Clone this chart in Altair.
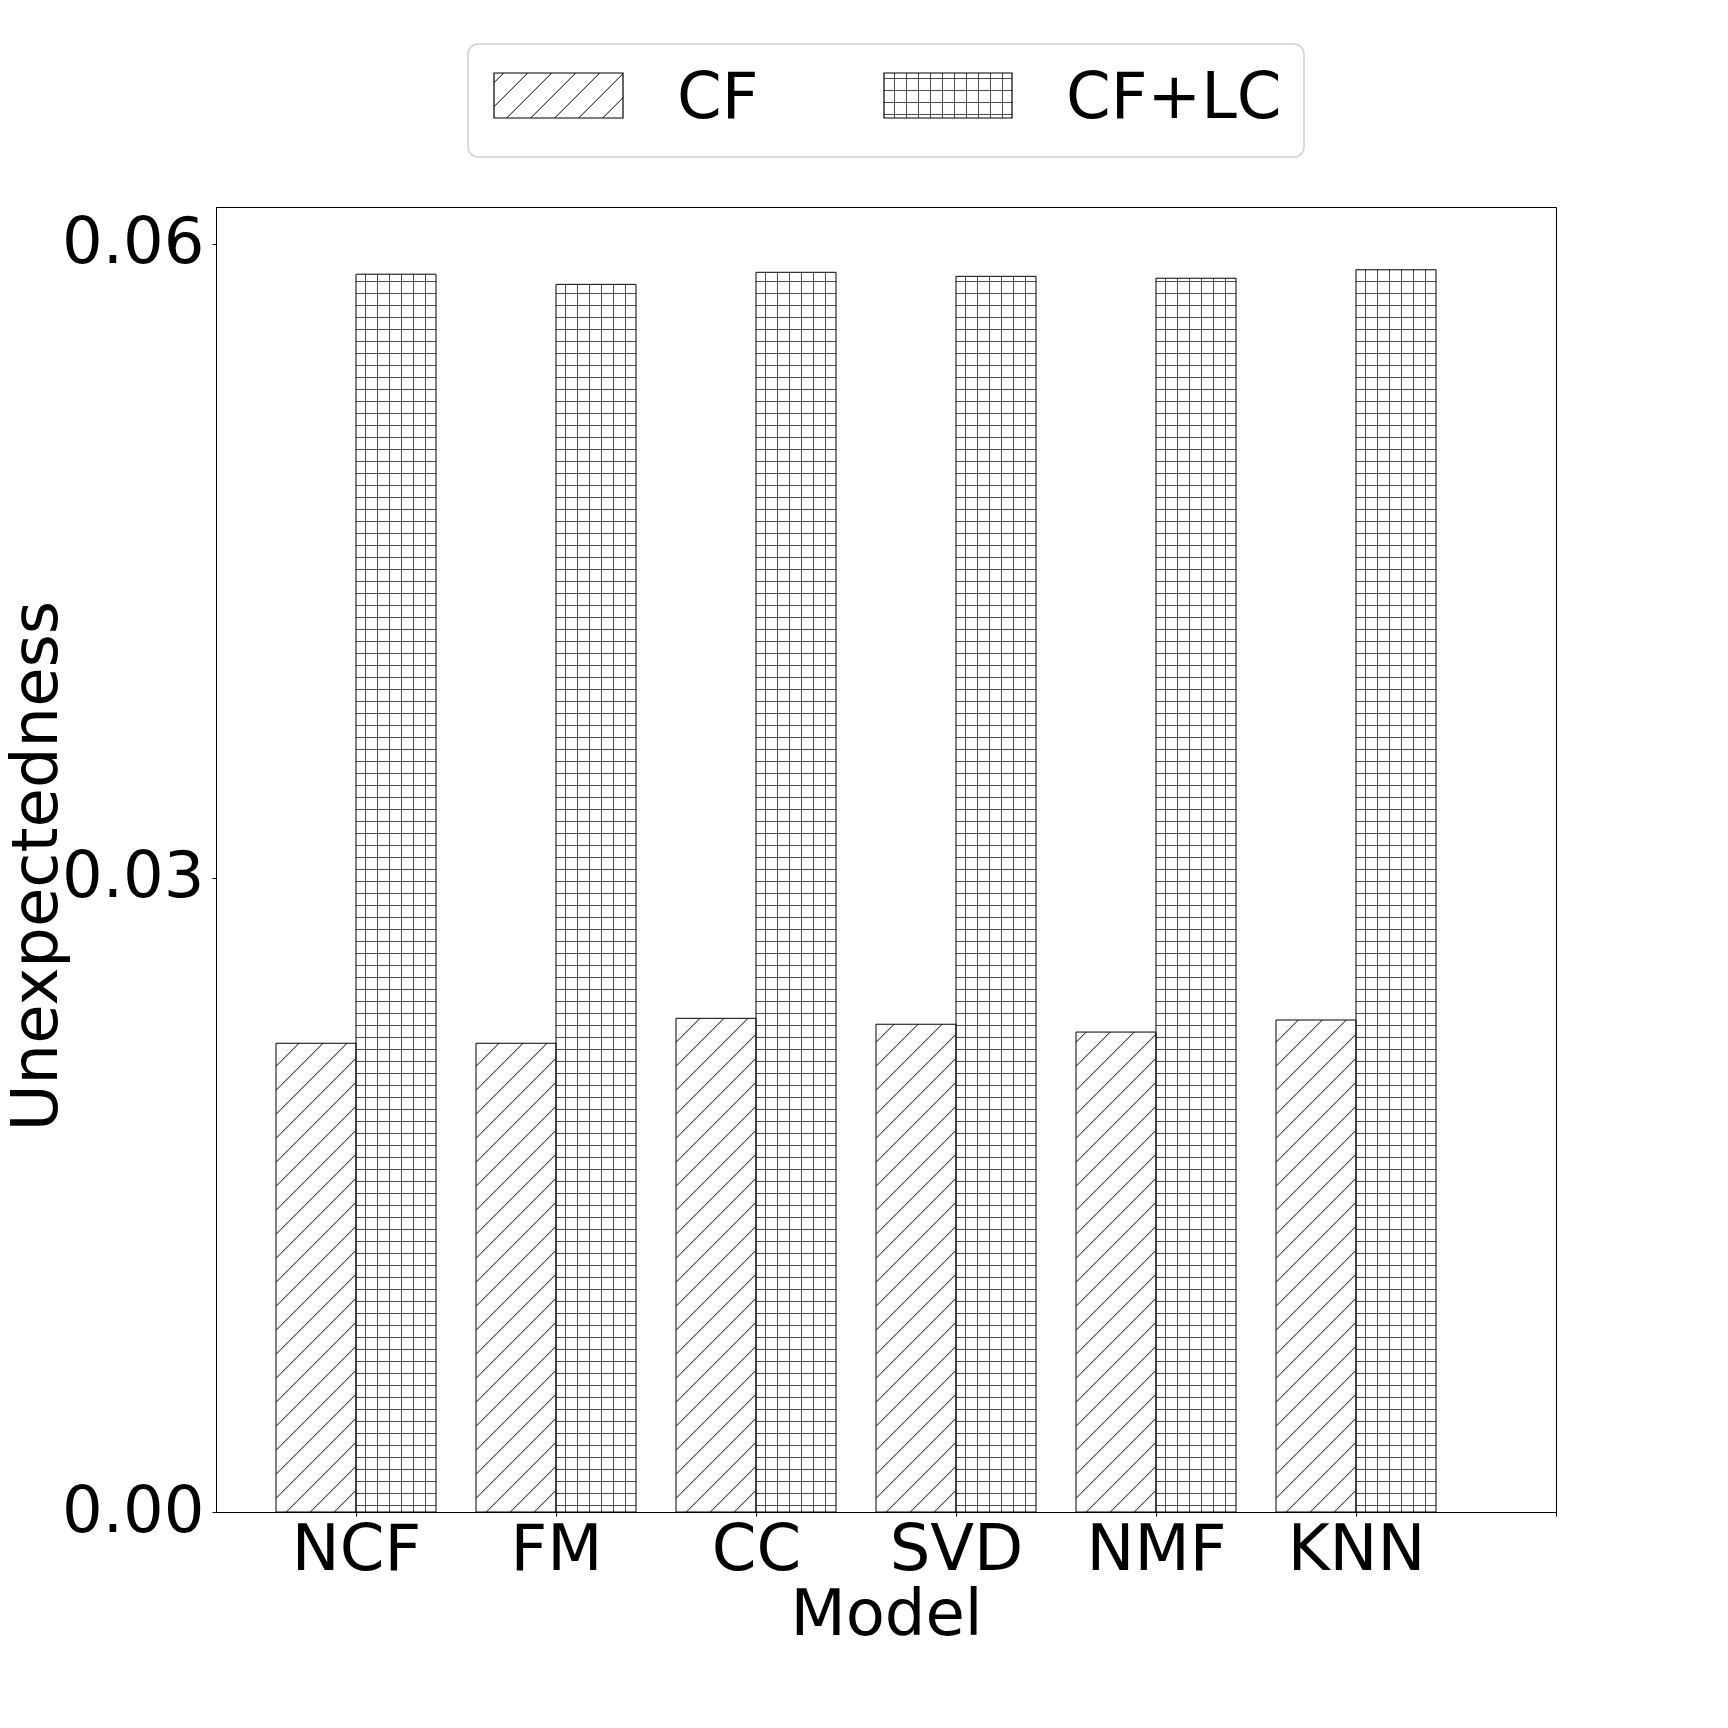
import json
import altair as alt
import pandas as pd

# ---------------- data ----------------
models = ["NCF", "FM", "CC", "SVD", "NMF", "KNN"]
series_names = ["CF", "CF+LC"]
cf_values = [0.02218, 0.02218, 0.02336, 0.02308, 0.02271, 0.02328]
cflc_values = [0.05857, 0.05809, 0.05866, 0.05847, 0.05838, 0.05878]
y_ticks = [0.0, 0.03, 0.06]

rows = []
for i, m in enumerate(models):
    rows.append({"model": m, "idx": i, "series": series_names[0], "value": cf_values[i]})
    rows.append({"model": m, "idx": i, "series": series_names[1], "value": cflc_values[i]})
df = pd.DataFrame(rows)

# ---------------- layout / style constants ----------------
FONT = "DejaVu Sans"
FS = 64
W, H = 1340, 1305
XMIN, XMAX = -0.7, 6.0
YMAX = 0.06175
BARW = 0.4
PXX = W / (XMAX - XMIN)   # px per x unit
PXY = H / YMAX            # px per y unit
WPX = BARW * PXX          # bar width in px
GRID = 12.0               # '+' hatch spacing (px)
GX0 = 9.5                 # first vertical hatch line offset (px)
GY0 = 6.5                 # first horizontal hatch line offset (px)
DIAG = 24.0               # '/' hatch spacing (px)
DPH = 21.7                # '/' hatch phase (px)
HATCH_ALPHA = 0.7

xs = alt.Scale(domain=[XMIN, XMAX], nice=False, zero=False)
ys = alt.Scale(domain=[0, YMAX], nice=False, zero=True)

label_expr = json.dumps(models + [""]) + "[datum.value]"

xaxis = alt.Axis(
    values=list(range(len(models) + 1)), labelExpr=label_expr, title="Model",
    labelFont=FONT, titleFont=FONT, labelFontSize=FS, titleFontSize=FS,
    titleFontWeight="normal", labelColor="black", titleColor="black",
    tickColor="black", domainColor="black", tickSize=4, labelPadding=2,
    titlePadding=1, grid=False, labelAngle=0, labelFlush=False, labelOverlap=False,
)
yaxis = alt.Axis(
    values=y_ticks, format=".2f", title="Unexpectedness",
    labelFont=FONT, titleFont=FONT, labelFontSize=FS, titleFontSize=FS,
    titleFontWeight="normal", labelColor="black", titleColor="black",
    tickColor="black", domainColor="black", tickSize=4, labelPadding=8,
    titlePadding=-8, titleY=H / 2 + 6, grid=False, labelFlush=False, labelOverlap=False,
)

base = alt.Chart(df).transform_calculate(
    x0=f"datum.idx - {BARW} + (datum.series == '{series_names[1]}' ? {BARW} : 0)"
).transform_calculate(
    x1=f"datum.x0 + {BARW}"
).transform_calculate(
    base="0"
)

bars_fill = base.mark_rect(fill="white", stroke=None).encode(
    x=alt.X("x0:Q", scale=xs, axis=xaxis),
    x2="x1:Q",
    y=alt.Y("value:Q", scale=ys, axis=yaxis),
    y2="base:Q",
)

grid_src = base.transform_filter(f"datum.series == '{series_names[1]}'")

vlines = grid_src.transform_calculate(k="sequence(0, 10)").transform_flatten(["k"]).transform_calculate(
    xv=f"datum.x0 + ({GX0} + {GRID} * datum.k) / {PXX}"
).transform_filter("datum.xv < datum.x1 - 0.002").mark_rule(
    stroke="black", strokeWidth=1, opacity=HATCH_ALPHA
).encode(
    x=alt.X("xv:Q", scale=xs, axis=xaxis),
    y=alt.Y("base:Q", scale=ys, axis=yaxis),
    y2="value:Q",
)

hlines = grid_src.transform_calculate(k="sequence(0, 120)").transform_flatten(["k"]).transform_calculate(
    yv=f"({GY0} + {GRID} * datum.k) / {PXY}"
).transform_filter("datum.yv < datum.value").mark_rule(
    stroke="black", strokeWidth=1, opacity=HATCH_ALPHA
).encode(
    x=alt.X("x0:Q", scale=xs, axis=xaxis),
    x2="x1:Q",
    y=alt.Y("yv:Q", scale=ys, axis=yaxis),
)

diag = base.transform_filter(f"datum.series == '{series_names[0]}'").transform_calculate(
    hpx=f"datum.value * {PXY}"
).transform_calculate(k="sequence(0, 60)").transform_flatten(["k"]).transform_calculate(
    c=f"{DPH} - {WPX} + {DIAG} * datum.k"
).transform_calculate(
    ua="max(0, -datum.c)"
).transform_calculate(
    ub=f"min({WPX}, datum.hpx - datum.c)"
).transform_filter("datum.ub > datum.ua + 0.5").transform_calculate(
    xa=f"datum.x0 + datum.ua / {PXX}"
).transform_calculate(
    xb=f"datum.x0 + datum.ub / {PXX}"
).transform_calculate(
    ya=f"(datum.ua + datum.c) / {PXY}"
).transform_calculate(
    yb=f"(datum.ub + datum.c) / {PXY}"
).mark_rule(stroke="black", strokeWidth=1).encode(
    x=alt.X("xa:Q", scale=xs, axis=xaxis),
    x2="xb:Q",
    y=alt.Y("ya:Q", scale=ys, axis=yaxis),
    y2="yb:Q",
)

bars_outline = base.mark_rect(fill=None, stroke="black", strokeWidth=1).encode(
    x=alt.X("x0:Q", scale=xs, axis=xaxis),
    x2="x1:Q",
    y=alt.Y("value:Q", scale=ys, axis=yaxis),
    y2="base:Q",
)

# ---------------- legend (pixel positions relative to plot origin) ----------------
legdf = pd.DataFrame({
    "series": series_names,
    "sx0": [278, 668], "sx1": [407, 796],
    "sy0": [-134, -134], "sy1": [-89, -89],
    "lx": [461, 850], "ly": [-89, -89],
})
leg = alt.Chart(legdf)

leg_box = alt.Chart(pd.DataFrame({"a": [0]})).mark_rect(
    fill="white", stroke="#d0d0d0", strokeWidth=1.5, cornerRadius=10
).encode(
    x=alt.value(252), x2=alt.value(1088), y=alt.value(-163), y2=alt.value(-50)
)

sw_enc = dict(
    x=alt.X("sx0:Q", scale=None), x2="sx1:Q",
    y=alt.Y("sy0:Q", scale=None), y2="sy1:Q",
)
leg_fill = leg.mark_rect(fill="white", stroke=None).encode(**sw_enc)
leg_outline = leg.mark_rect(fill=None, stroke="black", strokeWidth=1.2).encode(**sw_enc)

LPH = 11.3
leg_diag = leg.transform_filter(f"datum.series == '{series_names[0]}'").transform_calculate(
    wpx="datum.sx1 - datum.sx0"
).transform_calculate(
    hpx="datum.sy1 - datum.sy0"
).transform_calculate(k="sequence(0, 14)").transform_flatten(["k"]).transform_calculate(
    c=f"{LPH} - {DIAG} * 6 + {DIAG} * datum.k"
).transform_calculate(
    ua="max(0, -datum.c)"
).transform_calculate(
    ub="min(datum.wpx, datum.hpx - datum.c)"
).transform_filter("datum.ub > datum.ua + 0.5").transform_calculate(
    xa="datum.sx0 + datum.ua"
).transform_calculate(
    xb="datum.sx0 + datum.ub"
).transform_calculate(
    ya="datum.sy1 - (datum.ua + datum.c)"
).transform_calculate(
    yb="datum.sy1 - (datum.ub + datum.c)"
).mark_rule(stroke="black", strokeWidth=1).encode(
    x=alt.X("xa:Q", scale=None), x2="xb:Q",
    y=alt.Y("ya:Q", scale=None), y2="yb:Q",
)

leg_grid_src = leg.transform_filter(f"datum.series == '{series_names[1]}'")
leg_v = leg_grid_src.transform_calculate(k="sequence(0, 12)").transform_flatten(["k"]).transform_calculate(
    xv=f"datum.sx0 + 10.5 + {GRID} * datum.k"
).transform_filter("datum.xv < datum.sx1 - 1").mark_rule(
    stroke="black", strokeWidth=1, opacity=HATCH_ALPHA
).encode(
    x=alt.X("xv:Q", scale=None),
    y=alt.Y("sy0:Q", scale=None), y2="sy1:Q",
)
leg_h = leg_grid_src.transform_calculate(k="sequence(0, 6)").transform_flatten(["k"]).transform_calculate(
    yv=f"datum.sy0 + 5.5 + {GRID} * datum.k"
).transform_filter("datum.yv < datum.sy1 - 1").mark_rule(
    stroke="black", strokeWidth=1, opacity=HATCH_ALPHA
).encode(
    x=alt.X("sx0:Q", scale=None), x2="sx1:Q",
    y=alt.Y("yv:Q", scale=None),
)

leg_text = leg.mark_text(
    align="left", baseline="alphabetic", font=FONT, fontSize=FS, color="black"
).encode(
    x=alt.X("lx:Q", scale=None),
    y=alt.Y("ly:Q", scale=None),
    text="series:N",
)

chart = alt.layer(
    bars_fill, vlines, hlines, diag, bars_outline,
    leg_box, leg_fill, leg_diag, leg_v, leg_h, leg_outline, leg_text,
).properties(
    width=W, height=H,
    autosize=alt.AutoSizeParams(type="none"),
    padding={"left": 208, "top": 199, "right": 120, "bottom": 190},
    background="white",
).configure_view(
    stroke="black", strokeWidth=1
)

chart.save("out.html", embed_options={"renderer": "svg", "actions": False})
